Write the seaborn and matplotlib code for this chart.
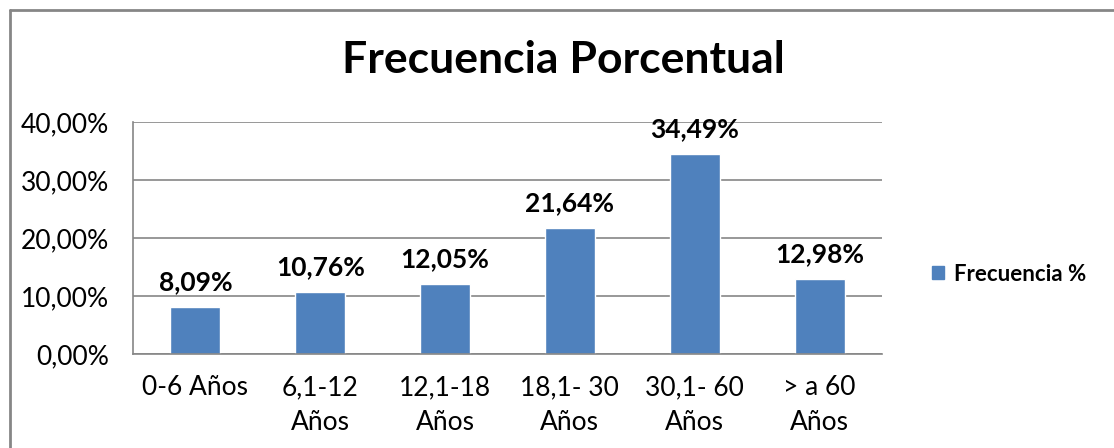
import numpy as np
import pandas as pd
import seaborn as sns
import matplotlib.pyplot as plt
from matplotlib.lines import Line2D
from matplotlib.patches import Patch
from matplotlib.ticker import FuncFormatter, FixedLocator

categorias = ["0-6 Años", "6,1-12\nAños", "12,1-18\nAños", "18,1- 30\nAños", "30,1- 60\nAños", "> a 60\nAños"]
frecuencia = [8.09, 10.76, 12.05, 21.64, 34.49, 12.98]
serie = "Frecuencia %"

df = pd.DataFrame({"Edad": categorias, "Frecuencia": frecuencia})

sns.set_style("white", {"text.color": "black", "xtick.color": "black", "ytick.color": "black"})
plt.rcParams['font.family'] = ['Lato', 'DejaVu Sans']

fig = plt.figure(figsize=(11.14, 4.48), dpi=100)
ax = fig.add_axes([133/1114, 94/448, 749/1114, 232/448])

azul = "#4F81BD"
gris = "#868686"
sns.barplot(data=df, x="Edad", y="Frecuencia", color=azul, width=0.4, saturation=1, ax=ax)

ax.set_ylim(0, 40)
ax.set_xlim(-0.5, len(categorias) - 0.5)
ax.set_yticks([0, 10, 20, 30, 40])
ax.yaxis.set_major_formatter(FuncFormatter(lambda v, p: f"{v:.2f}%".replace(".", ",")))
ax.yaxis.grid(True, color=gris, linewidth=1.2)
ax.set_axisbelow(True)
ax.set_xlabel("")
ax.set_ylabel("")

for s in ["top", "right"]:
    ax.spines[s].set_visible(False)
for s in ["left", "bottom"]:
    ax.spines[s].set_color(gris)
    ax.spines[s].set_linewidth(1.2)

ax.tick_params(axis="y", direction="out", length=6.5, width=1.2, color=gris, labelcolor="black", labelsize=19, pad=11)
ax.tick_params(axis="x", which="major", length=0, labelcolor="black", labelsize=19, pad=15)
ax.xaxis.set_minor_locator(FixedLocator(np.arange(-0.5, len(categorias), 1.0)))
ax.tick_params(axis="x", which="minor", direction="out", length=6, width=1.2, color=gris)
for lbl in ax.get_xticklabels():
    lbl.set_linespacing(1.5)
    lbl.set_verticalalignment("top")

for i, v in enumerate(frecuencia):
    ax.text(i, v + 4.3, f"{v:.2f}%".replace(".", ","), ha="center", va="center",
            fontsize=19, fontweight="bold", color="black")

fig.text(563/1114, 1 - 60/448, "Frecuencia Porcentual", ha="center", va="center",
         fontsize=32, fontweight="bold", color="black")

handle = Patch(facecolor=azul, edgecolor=azul)
fig.legend([handle], [serie], loc="center left", bbox_to_anchor=(912/1114, 1 - 274/448),
           frameon=False, handlelength=0.55, handleheight=0.55, handletextpad=0.45,
           labelcolor="black", prop={"weight": "bold", "size": 16})

# borde del gráfico
fig.add_artist(Line2D([10/1114, 1], [1 - 10/448, 1 - 10/448], color=gris, linewidth=2, transform=fig.transFigure))
fig.add_artist(Line2D([10/1114, 10/1114], [0, 1 - 10/448], color=gris, linewidth=2, transform=fig.transFigure))

fig.savefig("out.png", dpi=100)
